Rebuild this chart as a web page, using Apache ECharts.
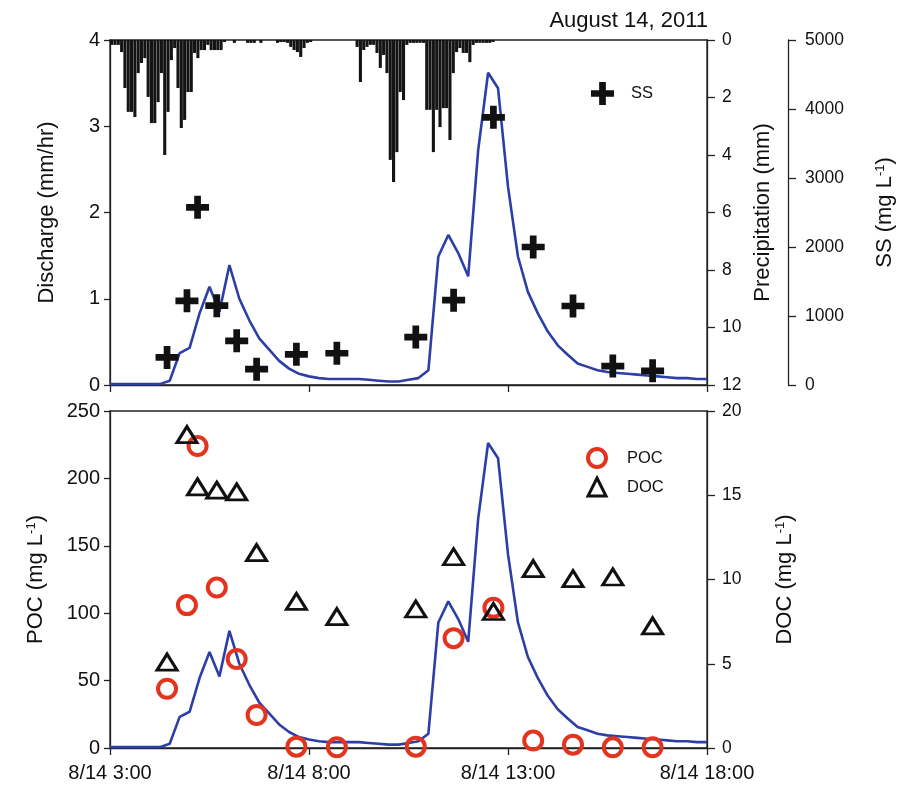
<!DOCTYPE html>
<html><head><meta charset="utf-8">
<script src="https://cdn.jsdelivr.net/npm/echarts@6/dist/echarts.min.js"></script>
<style>html,body{margin:0;padding:0;background:#fff}#c{width:909px;height:787px}</style>
</head><body><div id="c"></div>
<script>
// ---------- data ----------
const titleText = 'August 14, 2011';
const xTickLabels = ['8/14 3:00', '8/14 8:00', '8/14 13:00', '8/14 18:00'];

// precipitation (mm per 5 min), starting 03:00
const precipStart = '03:00';
const precipStepMin = 5;
const precipitation = [
  0.17,0.17,0.17,0.42,1.67,2.5,2.5,2.68,1.15,0.8,
  0.63,1.98,2.89,2.89,2.16,1.15,4.0,2.5,0.7,0.28,
  1.67,3.06,2.78,1.81,1.81,0.45,0.63,0.35,0.35,0.17,
  0.35,0.35,0.35,0.35,0.07,0,0,0.1,0,0,
  0,0.1,0.1,0.1,0,0.1,0,0,0,0,
  0.1,0.07,0.07,0.1,0.24,0.35,0.42,0.59,0.28,0.1,
  0.07,0,0,0,0,0,0,0,0,0,
  0,0,0,0,0.24,1.46,0.35,0.24,0.17,0.17,
  0.45,0.97,0.52,1.15,4.17,4.94,3.9,1.81,2.09,0.17,
  0.1,0.1,0.1,0.1,0.1,2.43,2.43,3.9,2.43,3.03,
  2.37,2.37,3.48,1.15,0.42,0.28,0.45,0.45,0.77,0.17,
  0.1,0.1,0.1,0.1,0.1,0.07
];

// discharge (mm/hr) every 15 min from 03:00
const dischargeStart = '03:00';
const dischargeStepMin = 15;
const discharge = [
  0.01,0.01,0.01,0.01,0.01,0.01,0.05,0.37,0.43,0.83,
  1.14,0.85,1.39,1.0,0.75,0.54,0.41,0.28,0.19,0.13,
  0.10,0.08,0.07,0.07,0.07,0.07,0.06,0.05,0.04,0.04,
  0.06,0.08,0.17,1.49,1.74,1.53,1.26,2.72,3.62,3.44,
  2.30,1.49,1.08,0.83,0.62,0.46,0.35,0.25,0.21,0.17,
  0.15,0.14,0.13,0.12,0.11,0.10,0.09,0.08,0.08,0.07,0.07
];

// water samples
const sampleTimes = ['04:26','04:56','05:12','05:41','06:11','06:41','07:41','08:42','10:41','11:38','12:38','13:38','14:38','15:38','16:38'];
const ssValues  = [400,1220,2575,1150,640,230,445,460,695,1230,3880,2000,1145,275,205];
const pocValues = [44,106,224,119,66,24.5,1,0.5,1,81.5,104,5.5,2.5,0.5,0.5];
const docValues = [5.1,18.6,15.5,15.3,15.2,11.6,8.7,7.8,8.25,11.35,8.1,10.65,10.05,10.15,7.25];

// ---------- helpers ----------
function toH(s){ const p = s.split(':'); return +p[0] + (+p[1])/60; }
const FONT = '"Liberation Sans", Arial, Helvetica, sans-serif';
const INK = '#222';
const BLUE = '#2d3fa6';
const RED = '#e3341f';
const BLACK = '#111';
const PLUS = 'path://M8.5,0H15.5V8.5H24V15.5H15.5V24H8.5V15.5H0V8.5H8.5Z';

const precipData = precipitation.map((v,i)=>[toH(precipStart) + (i*precipStepMin + precipStepMin/2)/60, v]);
const dischargeData = discharge.map((v,i)=>[toH(dischargeStart) + i*dischargeStepMin/60, v]);
const ssData  = sampleTimes.map((t,i)=>[toH(t), ssValues[i]]);
const pocData = sampleTimes.map((t,i)=>[toH(t), pocValues[i]]);
const docData = sampleTimes.map((t,i)=>[toH(t), docValues[i]]);

const axisLine = {show:true, lineStyle:{color:INK, width:1.3}};
const axisTick = {show:true, length:6, lineStyle:{color:INK, width:1.3}};
const plain = (v)=>String(v);
const lbl = (m, fs)=>({fontSize:fs || 17.5, color:'#111', margin:m, fontFamily:FONT, formatter:plain});
const nameStyle = {fontSize:22, color:'#111', fontFamily:FONT,
  rich:{sup:{fontSize:13, verticalAlign:'top', lineHeight:13, color:'#111', fontFamily:FONT, padding:[0,0,9,0]}}};

const option = {
  animation:false,
  textStyle:{fontFamily:FONT},
  title:{text:titleText, right:196, top:5, textStyle:{fontSize:22, fontWeight:'normal', color:'#111', fontFamily:FONT}},
  legend:[
    {data:[{name:'SS', icon:PLUS, itemStyle:{color:BLACK, opacity:1}}], left:586, top:77, itemWidth:23, itemHeight:23,
     textStyle:{fontSize:16.5, color:'#111', padding:[0,0,0,12]}, selectedMode:false},
    {data:[{name:'POC', icon:'circle', itemStyle:{color:'rgba(0,0,0,0)', borderColor:RED, borderWidth:4, opacity:1}},
           {name:'DOC', icon:'triangle', itemStyle:{color:'rgba(0,0,0,0)', borderColor:BLACK, borderWidth:3, opacity:1}}],
     orient:'vertical', left:581, top:442, itemWidth:18, itemHeight:18, itemGap:7.5,
     textStyle:{fontSize:16.5, color:'#111', padding:[0,0,0,16]}, selectedMode:false}
  ],
  grid:[
    {left:110, top:40, width:597, height:345, show:true, borderColor:INK, borderWidth:1.3, backgroundColor:'transparent'},
    {left:110, top:411, width:597, height:337, show:true, borderColor:INK, borderWidth:1.3, backgroundColor:'transparent'}
  ],
  xAxis:[
    {type:'value', gridIndex:0, min:3, max:18, interval:5, axisLine, axisTick:{...axisTick, length:7},
     axisLabel:{show:false}, splitLine:{show:false}},
    {type:'value', gridIndex:1, min:3, max:18, interval:5, axisLine, axisTick:{...axisTick, length:7},
     axisLabel:{fontSize:20, color:'#111', margin:15, fontFamily:FONT, showMinLabel:true, showMaxLabel:true,
       formatter:(v)=>xTickLabels[Math.round((v-3)/5)] || ''},
     splitLine:{show:false}}
  ],
  yAxis:[
    {type:'value', gridIndex:0, position:'left', min:0, max:4, interval:1,
     name:'Discharge (mm/hr)', nameLocation:'middle', nameGap:52, nameTextStyle:nameStyle,
     axisLine, axisTick, axisLabel:lbl(10, 20), splitLine:{show:false}},
    {type:'value', gridIndex:0, position:'right', inverse:true, min:0, max:12, interval:2,
     name:'Precipitation (mm)', nameLocation:'middle', nameGap:31, nameTextStyle:nameStyle,
     axisLine, axisTick:{...axisTick, length:8}, axisLabel:lbl(15), splitLine:{show:false}},
    {type:'value', gridIndex:0, position:'right', offset:81, min:0, max:5000, interval:1000,
     name:'SS (mg L{sup|-1})', nameLocation:'middle', nameGap:86, nameTextStyle:nameStyle,
     axisLine, axisTick:{...axisTick, length:8}, axisLabel:lbl(17), splitLine:{show:false}},
    {type:'value', gridIndex:1, position:'left', min:0, max:250, interval:50,
     name:'POC (mg L{sup|-1})', nameLocation:'middle', nameGap:63, nameTextStyle:nameStyle,
     axisLine, axisTick, axisLabel:lbl(10, 20), splitLine:{show:false}},
    {type:'value', gridIndex:1, position:'right', min:0, max:20, interval:5,
     name:'DOC (mg L{sup|-1})', nameLocation:'middle', nameGap:67, nameTextStyle:nameStyle,
     axisLine, axisTick:{...axisTick, length:8}, axisLabel:lbl(15), splitLine:{show:false}},
    {type:'value', gridIndex:1, position:'right', min:0, max:4, show:false, splitLine:{show:false}}
  ],
  series:[
    {name:'Precipitation', type:'bar', xAxisIndex:0, yAxisIndex:1, data:precipData, barWidth:3.1,
     itemStyle:{color:'#141414', opacity:1}, z:1},
    {name:'Discharge', type:'line', xAxisIndex:0, yAxisIndex:0, data:dischargeData, showSymbol:false,
     symbol:'none', lineStyle:{color:BLUE, width:2.6}, z:2},
    {name:'SS', type:'scatter', xAxisIndex:0, yAxisIndex:2, data:ssData, symbol:PLUS, symbolSize:23,
     itemStyle:{color:BLACK, opacity:1}, z:3},
    {name:'Discharge2', type:'line', xAxisIndex:1, yAxisIndex:5, data:dischargeData, showSymbol:false,
     symbol:'none', lineStyle:{color:BLUE, width:2.6}, z:2},
    {name:'POC', type:'scatter', xAxisIndex:1, yAxisIndex:3, data:pocData, symbol:'circle', symbolSize:18,
     itemStyle:{color:'rgba(0,0,0,0)', borderColor:RED, borderWidth:4, opacity:1}, z:3},
    {name:'DOC', type:'scatter', xAxisIndex:1, yAxisIndex:4, data:docData, symbol:'triangle', symbolSize:[20,16],
     itemStyle:{color:'rgba(0,0,0,0)', borderColor:BLACK, borderWidth:3, opacity:1}, z:4}
  ]
};
const chart = echarts.init(document.getElementById('c'), null, {renderer:'canvas'});
chart.setOption(option);
</script>
</body></html>
